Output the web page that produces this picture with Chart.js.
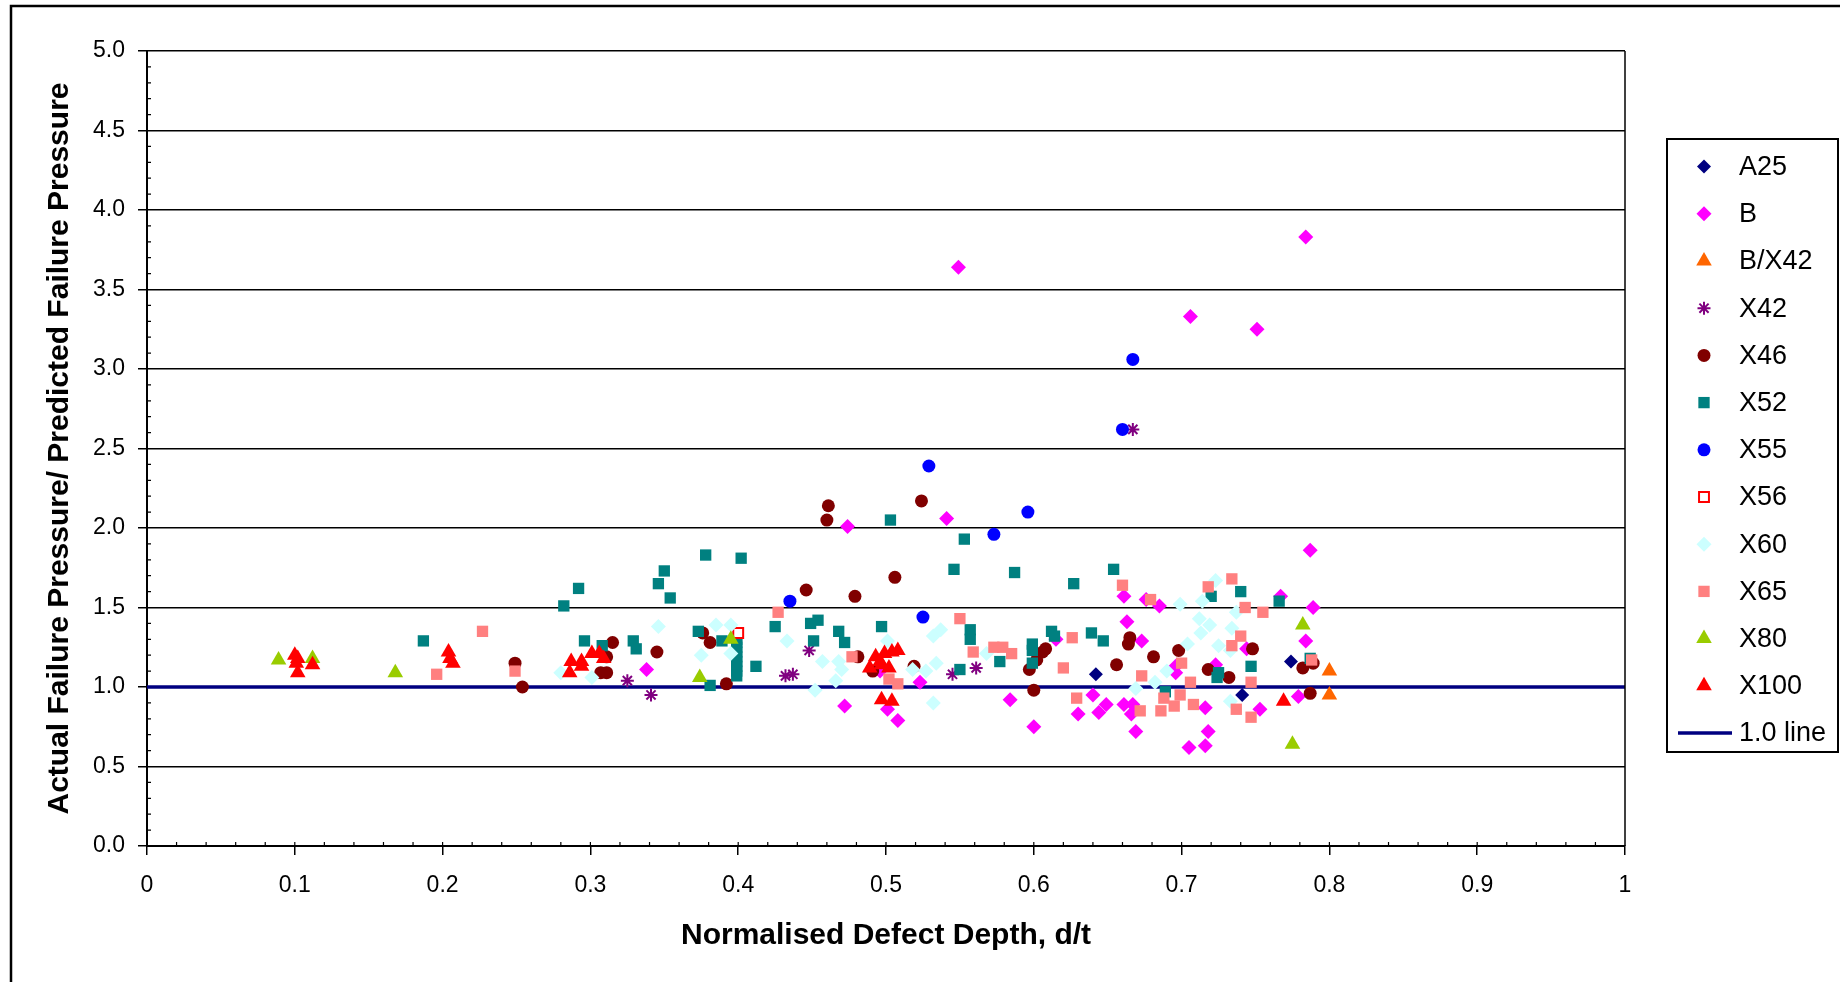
<!DOCTYPE html>
<html>
<head>
<meta charset="utf-8">
<title>Actual / predicted failure pressure vs normalised defect depth</title>
<script src="https://cdn.jsdelivr.net/npm/chart.js@4.4.1/dist/chart.umd.min.js"></script>
<style>
  html, body { margin: 0; padding: 0; background: #fff; }
  canvas { display: block; }
</style>
</head>
<body>
<canvas id="chart" width="1840" height="982"></canvas>
<script>
// [d/t, actual failure pressure / predicted failure pressure] for each pipe grade
const A25 = [[0.642, 1.08], [0.741, 0.95], [0.774, 1.16]];

const B = [
  [0.338, 1.11], [0.474, 2.01], [0.472, 0.88], [0.496, 1.10], [0.501, 0.86], [0.508, 0.79],
  [0.523, 1.03], [0.541, 2.06], [0.549, 3.64], [0.584, 0.92], [0.600, 0.75], [0.615, 1.30],
  [0.640, 0.95], [0.630, 0.83], [0.644, 0.84], [0.649, 0.89], [0.661, 1.57], [0.676, 1.55],
  [0.685, 1.51], [0.663, 1.41], [0.673, 1.29], [0.696, 1.13], [0.696, 1.09], [0.661, 0.89],
  [0.667, 0.89], [0.666, 0.83], [0.669, 0.72], [0.718, 0.72], [0.705, 0.62], [0.716, 0.63],
  [0.716, 0.87], [0.723, 1.14], [0.744, 1.24], [0.753, 0.86], [0.767, 1.57], [0.779, 0.94],
  [0.787, 1.86], [0.789, 1.50], [0.784, 1.29], [0.784, 3.83], [0.706, 3.33], [0.751, 3.25]
];

const BX42 = [[0.800, 1.10], [0.800, 0.95]];

const X42 = [
  [0.325, 1.04], [0.341, 0.95], [0.432, 1.07], [0.437, 1.08], [0.448, 1.23], [0.545, 1.08],
  [0.561, 1.12], [0.667, 2.62]
];

const X46 = [
  [0.249, 1.15], [0.254, 1.00], [0.315, 1.28], [0.311, 1.19], [0.307, 1.09], [0.311, 1.09],
  [0.345, 1.22], [0.376, 1.34], [0.381, 1.28], [0.392, 1.02], [0.446, 1.61], [0.479, 1.57],
  [0.506, 1.69], [0.461, 2.14], [0.460, 2.05], [0.481, 1.19], [0.491, 1.10], [0.524, 2.17],
  [0.519, 1.13], [0.600, 0.98], [0.597, 1.11], [0.602, 1.17], [0.606, 1.22], [0.608, 1.24],
  [0.665, 1.31], [0.664, 1.27], [0.656, 1.14], [0.681, 1.19], [0.698, 1.23], [0.718, 1.11],
  [0.732, 1.06], [0.748, 1.24], [0.782, 1.12], [0.789, 1.15], [0.787, 0.96]
];

const X52 = [
  [0.187, 1.29], [0.282, 1.51], [0.292, 1.62], [0.296, 1.29], [0.308, 1.26], [0.329, 1.29],
  [0.331, 1.24], [0.350, 1.73], [0.346, 1.65], [0.354, 1.56], [0.378, 1.83], [0.373, 1.35],
  [0.381, 1.01], [0.402, 1.81], [0.389, 1.29], [0.399, 1.07], [0.399, 1.10], [0.399, 1.13],
  [0.399, 1.16], [0.399, 1.19], [0.399, 1.22], [0.399, 1.25], [0.399, 1.28], [0.399, 1.30],
  [0.412, 1.13], [0.425, 1.38], [0.449, 1.40], [0.454, 1.42], [0.451, 1.29], [0.468, 1.35],
  [0.472, 1.28], [0.497, 1.38], [0.503, 2.05], [0.553, 1.93], [0.546, 1.74], [0.587, 1.72],
  [0.627, 1.65], [0.654, 1.74], [0.557, 1.36], [0.557, 1.30], [0.577, 1.16], [0.550, 1.11],
  [0.599, 1.27], [0.599, 1.23], [0.599, 1.15], [0.612, 1.35], [0.614, 1.32], [0.639, 1.34],
  [0.647, 1.29], [0.720, 1.57], [0.740, 1.60], [0.766, 1.54], [0.747, 1.13], [0.725, 1.09],
  [0.724, 1.06], [0.689, 0.97], [0.787, 1.18]
];

const X55 = [
  [0.435, 1.54], [0.525, 1.44], [0.529, 2.39], [0.573, 1.96], [0.596, 2.10], [0.660, 2.62],
  [0.667, 3.06]
];

const X56 = [[0.400, 1.34]];

const X60 = [
  [0.280, 1.09], [0.301, 1.06], [0.346, 1.38], [0.375, 1.20], [0.385, 1.39], [0.395, 1.39],
  [0.395, 1.21], [0.433, 1.29], [0.457, 1.16], [0.452, 0.98], [0.468, 1.16], [0.470, 1.11],
  [0.466, 1.04], [0.501, 1.29], [0.537, 1.36], [0.532, 1.32], [0.568, 1.21], [0.518, 1.11],
  [0.527, 1.10], [0.534, 1.15], [0.532, 0.90], [0.699, 1.52], [0.723, 1.67], [0.714, 1.54],
  [0.737, 1.47], [0.704, 1.27], [0.712, 1.43], [0.719, 1.39], [0.713, 1.34], [0.725, 1.26],
  [0.734, 1.37], [0.733, 1.23], [0.690, 1.10], [0.682, 1.03], [0.669, 0.99], [0.733, 0.91]
];

const X65 = [
  [0.196, 1.08], [0.227, 1.35], [0.249, 1.10], [0.427, 1.47], [0.477, 1.19], [0.502, 1.05],
  [0.508, 1.02], [0.550, 1.43], [0.559, 1.22], [0.573, 1.25], [0.579, 1.25], [0.585, 1.21],
  [0.626, 1.31], [0.620, 1.12], [0.629, 0.93], [0.660, 1.64], [0.679, 1.55], [0.718, 1.63],
  [0.734, 1.68], [0.743, 1.50], [0.755, 1.47], [0.740, 1.32], [0.734, 1.26], [0.700, 1.15],
  [0.747, 1.03], [0.706, 1.03], [0.673, 1.07], [0.688, 0.93], [0.699, 0.95], [0.695, 0.88],
  [0.686, 0.85], [0.672, 0.85], [0.708, 0.89], [0.737, 0.86], [0.747, 0.81], [0.788, 1.17]
];

const X80 = [
  [0.089, 1.17], [0.112, 1.18], [0.168, 1.09], [0.374, 1.06], [0.395, 1.30], [0.782, 1.39],
  [0.775, 0.64]
];

const X100 = [
  [0.100, 1.20], [0.102, 1.18], [0.101, 1.15], [0.102, 1.09], [0.112, 1.14], [0.204, 1.22],
  [0.205, 1.18], [0.207, 1.15], [0.287, 1.16], [0.286, 1.09], [0.294, 1.16], [0.294, 1.13],
  [0.301, 1.21], [0.306, 1.21], [0.309, 1.18], [0.489, 1.12], [0.493, 1.19], [0.499, 1.21],
  [0.504, 1.22], [0.508, 1.23], [0.497, 1.14], [0.502, 1.12], [0.496, 1.16], [0.497, 0.92],
  [0.504, 0.91], [0.769, 0.91]
];

// ratio = 1.0 reference line across the full depth range
const oneLine = [[0, 1.0], [1, 1.0]];

const xLimits = [0, 1];
const yLimits = [0, 5];

const FONT = '"Liberation Sans", Arial, Helvetica, sans-serif';

const grades = [
  { label: 'A25', data: A25, style: 'rectRot', color: '#000080', radius: 7 },
  { label: 'B', data: B, style: 'rectRot', color: '#FF00FF', radius: 7.5 },
  { label: 'B/X42', data: BX42, style: 'triangle', color: '#FF6600', radius: 9 },
  { label: 'X42', data: X42, style: 'star', color: '#800080', radius: 6.5, border: 2 },
  { label: 'X46', data: X46, style: 'circle', color: '#800000', radius: 6.5 },
  { label: 'X52', data: X52, style: 'rect', color: '#008080', radius: 8 },
  { label: 'X55', data: X55, style: 'circle', color: '#0000FF', radius: 6.5 },
  { label: 'X56', data: X56, style: 'rect', color: '#FF0000', fill: '#FFFFFF', radius: 7, border: 2 },
  { label: 'X60', data: X60, style: 'rectRot', color: '#CCFFFF', radius: 7.5 },
  { label: 'X65', data: X65, style: 'rect', color: '#FF8080', radius: 8 },
  { label: 'X80', data: X80, style: 'triangle', color: '#99CC00', radius: 9 },
  { label: 'X100', data: X100, style: 'triangle', color: '#FF0000', radius: 9 }
];

const toPoints = (arr) => arr.map(([x, y]) => ({ x, y }));

// later grades sit on top of earlier ones, the 1.0 line goes underneath everything
const datasets = grades.map((g, i) => ({
  label: g.label,
  data: toPoints(g.data),
  pointStyle: g.style,
  pointRadius: g.radius,
  pointBackgroundColor: g.fill || g.color,
  pointBorderColor: g.color,
  pointBorderWidth: g.border || 0,
  showLine: false,
  order: grades.length - i
}));

datasets.push({
  label: '1.0 line',
  data: toPoints(oneLine),
  showLine: true,
  borderColor: '#000080',
  borderWidth: 3.5,
  pointRadius: 0,
  order: 100
});

function drawMarker(ctx, g, cx, cy) {
  ctx.save();
  ctx.fillStyle = g.fill || g.color;
  ctx.strokeStyle = g.color;
  ctx.lineWidth = g.border || 0;
  Chart.helpers.drawPoint(ctx, {
    pointStyle: g.style,
    radius: g.radius,
    borderWidth: g.border || 0,
    rotation: 0
  }, cx, cy);
  ctx.restore();
}

// outer frame, small inside tick marks, right edge of the plot and the boxed legend
const decorations = {
  id: 'decorations',
  afterDraw(chart) {
    const { ctx, chartArea: area, scales } = chart;
    const x = scales.x;
    const y = scales.y;
    ctx.save();

    ctx.strokeStyle = '#000';
    ctx.lineWidth = 2.5;
    ctx.beginPath();
    ctx.moveTo(11, 982);
    ctx.lineTo(11, 6);
    ctx.lineTo(1840, 6);
    ctx.stroke();

    ctx.lineWidth = 1.5;
    ctx.beginPath();
    ctx.moveTo(area.right, area.top);
    ctx.lineTo(area.right, area.bottom);
    ctx.stroke();

    ctx.lineWidth = 1.2;
    ctx.beginPath();
    for (let i = 1; i < 50; i++) {
      const px = x.getPixelForValue(i * 0.02);
      ctx.moveTo(px, area.bottom);
      ctx.lineTo(px, area.bottom - 4);
    }
    for (let i = 1; i < 50; i++) {
      if (i % 5 === 0) continue;
      const py = y.getPixelForValue(i * 0.1);
      ctx.moveTo(area.left, py);
      ctx.lineTo(area.left + 4, py);
    }
    ctx.stroke();

    const box = { left: 1667, top: 139, width: 171, height: 613 };
    ctx.lineWidth = 2;
    ctx.strokeRect(box.left, box.top, box.width, box.height);

    const rowTop = 166.6;
    const rowStep = 47.2;
    ctx.font = '27px ' + FONT;
    ctx.textBaseline = 'middle';
    ctx.textAlign = 'left';
    grades.forEach((g, i) => {
      const cy = rowTop + i * rowStep;
      drawMarker(ctx, g, 1704, cy);
      ctx.fillStyle = '#000';
      ctx.fillText(g.label, 1739, cy + 1);
    });
    const ly = rowTop + grades.length * rowStep;
    ctx.strokeStyle = '#000080';
    ctx.lineWidth = 3.5;
    ctx.beginPath();
    ctx.moveTo(1678, ly);
    ctx.lineTo(1732, ly);
    ctx.stroke();
    ctx.fillStyle = '#000';
    ctx.fillText('1.0 line', 1739, ly + 1);

    ctx.restore();
  }
};

new Chart(document.getElementById('chart'), {
  type: 'scatter',
  data: { datasets },
  options: {
    responsive: false,
    animation: false,
    devicePixelRatio: 1,
    events: [],
    layout: { padding: { left: 0, right: 215, top: 51, bottom: 0 } },
    plugins: {
      legend: { display: false },
      tooltip: { enabled: false }
    },
    scales: {
      x: {
        type: 'linear',
        min: xLimits[0],
        max: xLimits[1],
        afterFit: (scale) => { scale.height = 136; },
        ticks: {
          stepSize: 0.1,
          padding: 17,
          color: '#000',
          font: { family: FONT, size: 23 },
          callback: (v) => (v === 0 || v === 1 ? String(v) : v.toFixed(1))
        },
        grid: {
          drawOnChartArea: false,
          drawTicks: true,
          tickLength: 9,
          color: '#000',
          lineWidth: 1.5
        },
        border: { display: true, color: '#000', width: 2 },
        title: {
          display: true,
          text: 'Normalised Defect Depth, d/t',
          color: '#000',
          font: { family: FONT, size: 30, weight: 'bold' },
          padding: { top: 0, bottom: 28 }
        }
      },
      y: {
        type: 'linear',
        min: yLimits[0],
        max: yLimits[1],
        afterFit: (scale) => { scale.width = 147; },
        ticks: {
          stepSize: 0.5,
          padding: 13,
          color: '#000',
          font: { family: FONT, size: 23 },
          callback: (v) => v.toFixed(1)
        },
        grid: {
          drawTicks: true,
          tickLength: 9,
          color: '#000',
          lineWidth: 1.5
        },
        border: { display: true, color: '#000', width: 2 },
        title: {
          display: true,
          text: 'Actual Failure Pressure/ Predicted Failure Pressure',
          color: '#000',
          font: { family: FONT, size: 30, weight: 'bold' },
          padding: { top: 42, bottom: 0 }
        }
      }
    }
  },
  plugins: [decorations]
});
</script>
</body>
</html>
